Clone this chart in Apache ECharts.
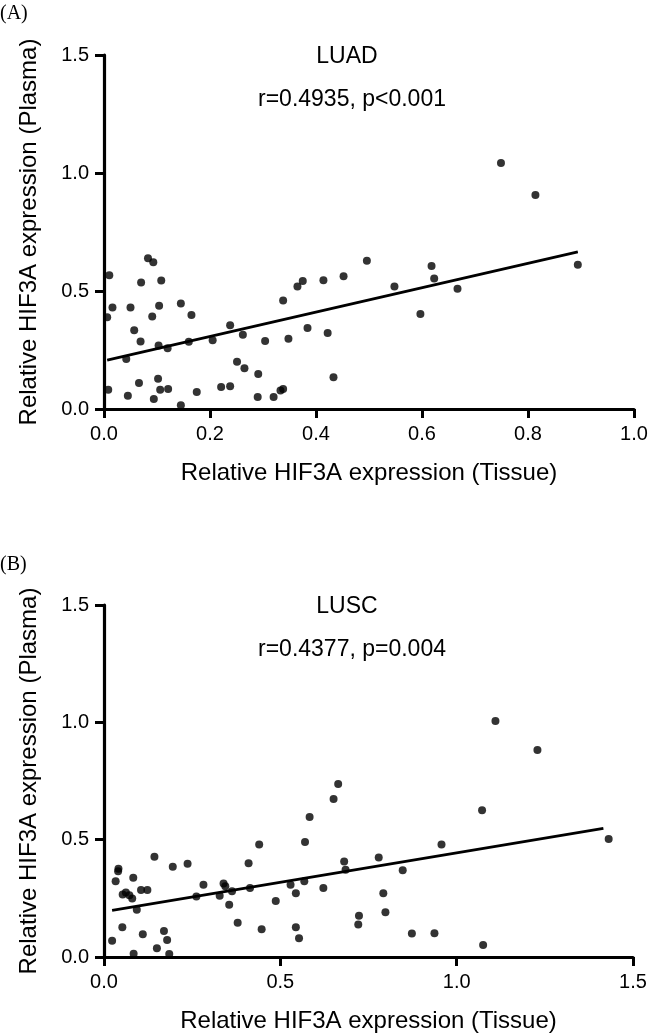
<!DOCTYPE html>
<html>
<head>
<meta charset="utf-8">
<script src="https://cdn.jsdelivr.net/npm/echarts@6/dist/echarts.min.js"></script>
<style>
html,body{margin:0;padding:0;background:#fff;}
#chart{width:664px;height:1034px;}
</style>
</head>
<body>
<div id="chart"></div>
<script>
// ---- Data ----
const luadPoints = [
  [0.010,0.567],[0.006,0.389],[0.016,0.430],[0.008,0.082],[0.042,0.212],[0.045,0.056],
  [0.050,0.430],[0.057,0.334],[0.069,0.286],[0.066,0.110],[0.070,0.536],[0.083,0.639],
  [0.093,0.622],[0.108,0.544],[0.104,0.437],[0.091,0.392],[0.103,0.269],[0.120,0.257],
  [0.102,0.128],[0.106,0.082],[0.121,0.085],[0.094,0.042],[0.145,0.447],[0.165,0.398],
  [0.160,0.285],[0.145,0.016],[0.175,0.072],[0.205,0.291],[0.221,0.093],[0.238,0.096],
  [0.238,0.355],[0.262,0.315],[0.251,0.200],[0.265,0.173],[0.291,0.148],[0.290,0.051],
  [0.304,0.288],[0.320,0.051],[0.333,0.078],[0.338,0.085],[0.338,0.460],[0.348,0.298],
  [0.365,0.519],[0.375,0.542],[0.384,0.343],[0.414,0.546],[0.422,0.322],[0.433,0.135],
  [0.452,0.563],[0.496,0.628],[0.548,0.519],[0.618,0.606],[0.623,0.553],[0.597,0.403],
  [0.667,0.510],[0.749,1.042],[0.814,0.907],[0.894,0.611]
];
const luadFit = [[0.006,0.207],[0.894,0.666]];

const luscPoints = [
  [0.023,0.069],[0.033,0.323],[0.040,0.365],[0.041,0.376],[0.052,0.127],[0.053,0.266],
  [0.062,0.275],[0.072,0.263],[0.080,0.249],[0.083,0.338],[0.084,0.014],[0.093,0.201],
  [0.105,0.285],[0.123,0.285],[0.110,0.097],[0.143,0.427],[0.150,0.037],[0.170,0.111],
  [0.179,0.072],[0.185,0.013],[0.195,0.385],[0.237,0.397],[0.262,0.258],[0.282,0.308],
  [0.328,0.261],[0.339,0.313],[0.344,0.301],[0.355,0.223],[0.363,0.280],[0.379,0.146],
  [0.410,0.400],[0.414,0.294],[0.440,0.479],[0.447,0.118],[0.487,0.239],[0.529,0.308],
  [0.544,0.272],[0.544,0.127],[0.553,0.080],[0.568,0.323],[0.570,0.490],[0.583,0.597],
  [0.622,0.294],[0.651,0.673],[0.664,0.737],[0.681,0.407],[0.685,0.372],[0.723,0.176],
  [0.721,0.139],[0.779,0.424],[0.847,0.370],[0.792,0.272],[0.798,0.191],[0.873,0.100],
  [0.937,0.101],[0.957,0.479],[1.072,0.625],[1.075,0.051],[1.110,1.006],[1.229,0.882],
  [1.431,0.503]
];
const luscFit = [[0.023,0.199],[1.416,0.548]];

const panelLabels = ['(A)','(B)'];
const panelTitles = ['LUAD','LUSC'];
const panelStats = ['r=0.4935, p<0.001','r=0.4377, p=0.004'];
const xAxisName = 'Relative HIF3A expression (Tissue)';
const yAxisName = 'Relative HIF3A expression (Plasma)';
const yTicks = { min: 0, max: 1.5, interval: 0.5 };
const xTicksA = { min: 0, max: 1.0, interval: 0.2 };
const xTicksB = { min: 0, max: 1.5, interval: 0.5 };

// ---- Chart ----
const FONT = '"Liberation Sans", Arial, sans-serif';
const SERIF = '"Liberation Serif", "Times New Roman", serif';
const chart = echarts.init(document.getElementById('chart'), null, {renderer:'canvas'});

function xAxisCfg(idx, t){
  return {
    type:'value', gridIndex:idx, min:t.min, max:t.max, interval:t.interval,
    name:xAxisName, nameLocation:'middle', nameGap:52,
    nameTextStyle:{fontFamily:FONT, fontSize:24, color:'#000'},
    axisLine:{show:true, onZero:false, lineStyle:{color:'#000', width:3.2}},
    axisTick:{show:true, inside:false, length:9, lineStyle:{color:'#000', width:3}},
    axisLabel:{margin:15, fontFamily:FONT, fontSize:20, color:'#000', formatter:v=>v.toFixed(1)},
    splitLine:{show:false}
  };
}
function yAxisCfg(idx){
  return {
    type:'value', gridIndex:idx, min:yTicks.min, max:yTicks.max, interval:yTicks.interval,
    name:yAxisName, nameLocation:'middle', nameGap:63,
    nameTextStyle:{fontFamily:FONT, fontSize:24, color:'#000'},
    axisLine:{show:true, onZero:false, lineStyle:{color:'#000', width:3.2}},
    axisTick:{show:true, inside:false, length:9, lineStyle:{color:'#000', width:3}},
    axisLabel:{margin:15, fontFamily:FONT, fontSize:20, color:'#000', formatter:v=>v.toFixed(1)},
    splitLine:{show:false}
  };
}
function scatter(idx, pts){
  return {type:'scatter', xAxisIndex:idx, yAxisIndex:idx, data:pts, symbol:'circle', symbolSize:8,
    itemStyle:{color:'#000'}, silent:true, z:3};
}
function fit(idx, pts){
  return {type:'line', xAxisIndex:idx, yAxisIndex:idx, data:pts, showSymbol:false, symbol:'none',
    lineStyle:{color:'#000', width:2.8}, silent:true, z:2};
}
function txt(x, y, s, size, fam, align){
  return {type:'text', x:x, y:y, style:{text:s, fontFamily:fam, fontSize:size, fill:'#000',
    textAlign:align||'center', textVerticalAlign:'middle'}};
}

chart.setOption({
  animation:false,
  backgroundColor:'#fff',
  grid:[
    {left:104, top:55, width:530, height:354},
    {left:104, top:605, width:529, height:354}
  ],
  xAxis:[xAxisCfg(0, xTicksA), xAxisCfg(1, xTicksB)],
  yAxis:[yAxisCfg(0), yAxisCfg(1)],
  series:[scatter(0, luadPoints), fit(0, luadFit), scatter(1, luscPoints), fit(1, luscFit)],
  graphic:[
    txt(0, 14, panelLabels[0], 20, SERIF, 'left'),
    txt(0, 565, panelLabels[1], 20, SERIF, 'left'),
    txt(347, 57, panelTitles[0], 23, FONT),
    txt(352, 100, panelStats[0], 23, FONT),
    txt(347, 607, panelTitles[1], 23, FONT),
    txt(352, 650, panelStats[1], 23, FONT)
  ]
});
</script>
</body>
</html>
